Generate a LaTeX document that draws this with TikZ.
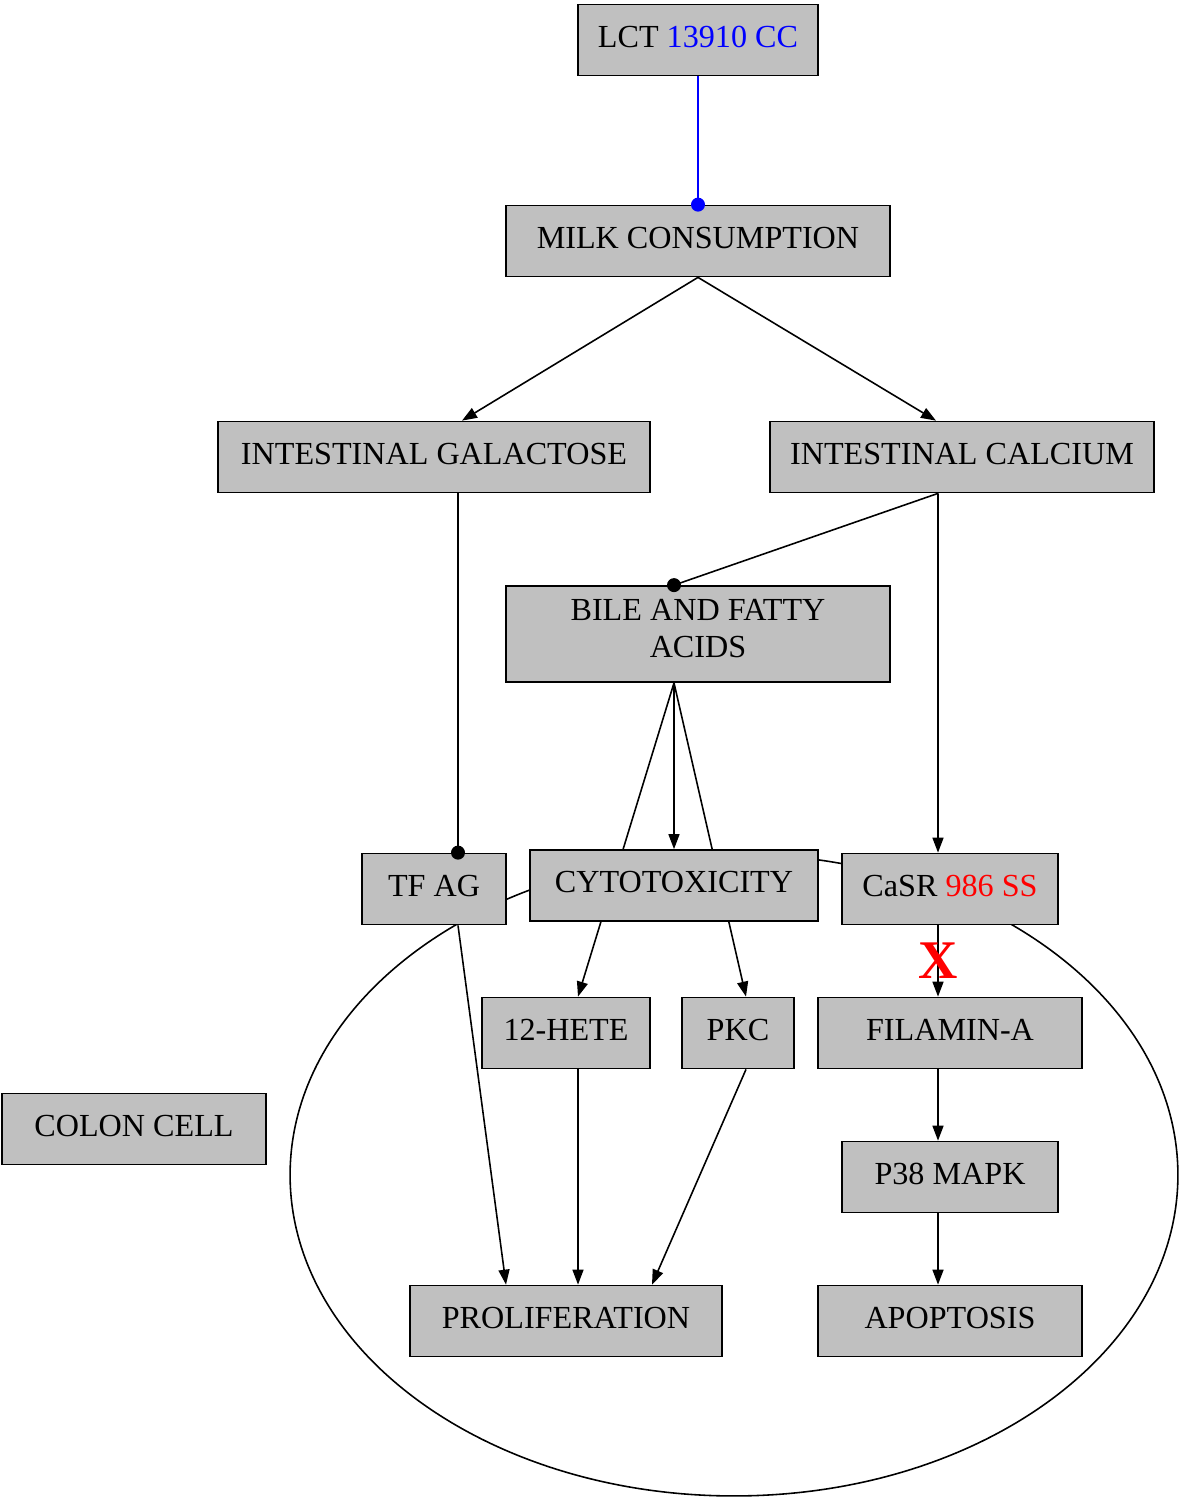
\documentclass[tikz,border=0pt]{standalone}
\usepackage{fontspec}
\setmainfont{Liberation Serif}
\usepackage{tikz}
\usetikzlibrary{arrows.meta,positioning,backgrounds}
\definecolor{boxgray}{RGB}{192,192,192}

\begin{document}
\begin{tikzpicture}[
  x=0.02cm, y=-0.02cm,
  box/.style={
    rectangle, minimum height=1.42cm, inner sep=0pt,
    text centered, draw=black, line width=1pt,
    fill=boxgray, font=\fontsize{18.3pt}{21pt}\selectfont\strut
  },
  arrow/.style={-{Triangle[length=0.3cm,width=0.22cm]}, line width=0.9pt, draw=black},
  dotline/.style={line width=0.9pt, draw=black},
  dotmark/.style={circle, fill=black, inner sep=0pt, minimum size=0.28cm}
]
\useasboundingbox (0,0) rectangle (1178,1499);
% Top part
\node[box, minimum width=4.8cm]  (lct)  at (698,40)  {LCT \textcolor{blue}{13910 CC}};
\node[box, minimum width=7.68cm] (milk) at (698,241) {MILK CONSUMPTION};
\node[box, minimum width=8.64cm] (gal)  at (434,457) {INTESTINAL GALACTOSE};
\node[box, minimum width=7.68cm] (calc) at (962,457) {INTESTINAL CALCIUM};
\node[box, minimum width=7.68cm, minimum height=1.92cm, align=center] (bile) at (698,634) {BILE AND FATTY\\ACIDS};
% Middle row
\node[box, minimum width=2.88cm] (tfag) at (434,889)   {TF AG};
\node[box, minimum width=5.76cm] (cyto) at (674,885.5) {CYTOTOXICITY};
\node[box, minimum width=4.32cm] (casr) at (950,889)   {CaSR \textcolor{red}{986 SS}};
% Inside the cell
\node[box, minimum width=3.36cm] (hete)    at (566,1033) {12-HETE};
\node[box, minimum width=2.24cm] (pkc)     at (738,1033) {PKC};
\node[box, minimum width=5.28cm] (filamin) at (950,1033) {FILAMIN-A};
\node[box, minimum width=4.32cm] (mapk)    at (950,1177) {P38 MAPK};
\node[box, minimum width=6.24cm] (prolif)  at (566,1321) {PROLIFERATION};
\node[box, minimum width=5.28cm] (apop)    at (950,1321) {APOPTOSIS};
\node[box, minimum width=5.28cm] (colon)   at (134,1129) {COLON CELL};
% Cell outline and arrows, behind the boxes
\begin{scope}[on background layer]
\draw[line width=0.9pt] (734,1175) ellipse [x radius=8.88cm, y radius=6.42cm];
\draw[arrow] (milk.south) -- ([xshift=0.56cm]gal.north);
\draw[arrow] (milk.south) -- ([xshift=-0.52cm]calc.north);
\draw[arrow] ([xshift=-0.48cm]calc.south) -- ([xshift=-0.24cm]casr.north);
\draw[arrow] ([xshift=-0.48cm]bile.south) -- (cyto.north);
\draw[arrow] ([xshift=-0.48cm]bile.south) -- ([xshift=0.24cm]hete.north);
\draw[arrow] ([xshift=-0.48cm]bile.south) -- ([xshift=0.16cm]pkc.north);
\draw[arrow] ([xshift=0.48cm]tfag.south) -- ([xshift=-1.2cm]prolif.north);
\draw[arrow] ([xshift=0.24cm]hete.south) -- ([xshift=0.24cm]prolif.north);
\draw[arrow] ([xshift=0.16cm]pkc.south) -- ([xshift=1.72cm]prolif.north);
\draw[arrow] ([xshift=-0.24cm]casr.south) -- ([xshift=-0.24cm]filamin.north)
  node[pos=0.5, text=red, font=\fontsize{31pt}{31pt}\selectfont\bfseries] {X};
\draw[arrow] ([xshift=-0.24cm]filamin.south) -- ([xshift=-0.24cm]mapk.north);
\draw[arrow] ([xshift=-0.24cm]mapk.south) -- ([xshift=-0.24cm]apop.north);
\end{scope}
% Dot-ended links
\draw[dotline, draw=blue] (lct.south) -- (milk.north) node[dotmark, fill=blue, pos=1] {};
\draw[dotline] ([xshift=-0.48cm]calc.south) -- ([xshift=-0.48cm]bile.north) node[dotmark, pos=1] {};
\draw[dotline] ([xshift=0.48cm]gal.south) -- ([xshift=0.48cm]tfag.north) node[dotmark, pos=1] {};
\end{tikzpicture}
\end{document}
